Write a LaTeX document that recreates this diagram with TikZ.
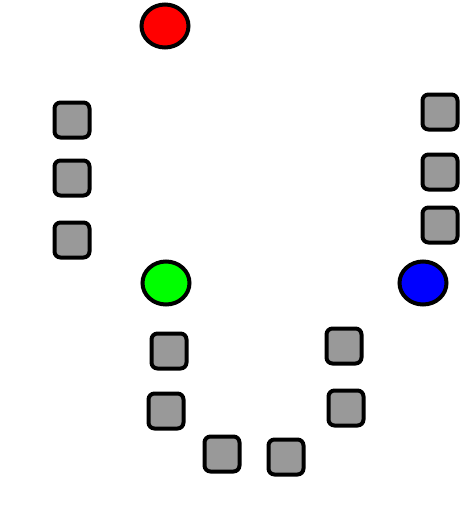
\documentclass[tikz,border=0pt]{standalone}
\usetikzlibrary{shapes.geometric}
\definecolor{tilegray}{HTML}{999999}
\tikzset{
  tile/.style={draw=black, line width=4pt, fill=tilegray, rounded corners=6pt,
    minimum width=35pt, minimum height=35pt, inner sep=0pt},
  disc/.style={draw=black, line width=4pt, ellipse, minimum width=47pt,
    minimum height=43pt, inner sep=0pt}
}
\begin{document}
\begin{tikzpicture}[x=1pt, y=-1pt]
      \useasboundingbox (0, 0) rectangle (462, 519);
      % discs
      \node[disc, fill=red] (red) at (165, 26) {};
      \node[disc, fill=green] (green) at (166, 283) {};
      \node[disc, fill=blue] (blue) at (423, 283) {};
      % left column
      \node[tile] (l1) at (72, 120) {};
      \node[tile] (l2) at (72, 178) {};
      \node[tile] (l3) at (72, 240) {};
      % right column
      \node[tile] (r1) at (440, 112) {};
      \node[tile] (r2) at (440, 172) {};
      \node[tile] (r3) at (440, 225) {};
      % bottom arc
      \node[tile] (b1) at (169, 351) {};
      \node[tile] (b2) at (166, 411) {};
      \node[tile] (b3) at (222, 454) {};
      \node[tile] (b4) at (286, 457) {};
      \node[tile] (b5) at (346, 408) {};
      \node[tile] (b6) at (344, 346) {};
\end{tikzpicture}
\end{document}
